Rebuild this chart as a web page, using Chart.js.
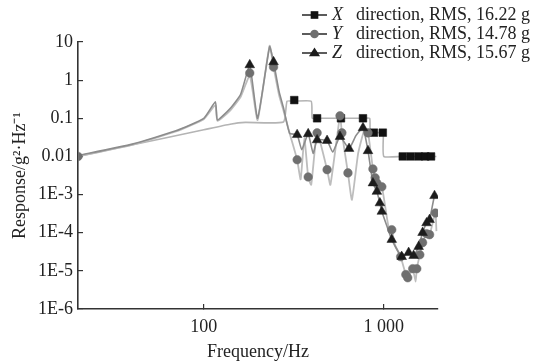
<!DOCTYPE html>
<html>
<head>
<meta charset="utf-8">
<script src="https://cdn.jsdelivr.net/npm/chart.js@4.4.1/dist/chart.umd.min.js"></script>
<style>
  html, body { margin: 0; padding: 0; background: #fff; }
  #wrap { width: 536px; height: 361px; }
</style>
</head>
<body>
<div id="wrap"><canvas id="c" width="536" height="361"></canvas></div>
<script>
// ---------------- DATA ----------------
const seriesNames = ['X', 'Y', 'Z'];
const seriesRms = ['16.22', '14.78', '15.67'];

// X direction
const xLineHz  = [20, 60, 100, 140, 170, 277, 290, 318, 395, 400, 426, 578, 766, 835, 840, 881, 987, 995, 1000, 1274, 1410, 1561, 1700, 1830, 1960];
const xLineVal = [0.01, 0.03, 0.05, 0.07, 0.078, 0.08, 0.28, 0.28, 0.28, 0.1, 0.1, 0.1, 0.1, 0.1, 0.042, 0.042, 0.042, 0.042, 0.01, 0.01, 0.01, 0.01, 0.01, 0.01, 0.01];
const xMarkHz  = [318, 426, 578, 766, 881, 987, 1274, 1410, 1561, 1700, 1830];
const xMarkVal = [0.3, 0.1, 0.1, 0.1, 0.042, 0.042, 0.01, 0.01, 0.01, 0.01, 0.01];

// Y direction
const yLineHz  = [20, 40, 70, 100, 116, 119, 140, 160, 180, 199, 232, 244, 262, 277, 300, 330, 345, 362, 380, 395, 426, 484, 505, 571, 585, 632, 665, 720, 780, 817, 870, 895, 915, 975, 1060, 1107, 1150, 1240, 1325, 1358, 1447, 1503, 1525, 1585, 1642, 1728, 1796, 1935, 1960];
const yLineVal = [0.01, 0.02, 0.045, 0.095, 0.22, 0.085, 0.16, 0.36, 1.3, 0.09, 8.0, 2.2, 0.4, 0.16, 0.04, 0.0082, 0.0025, 0.03, 0.0029, 0.0018, 0.0415, 0.0045, 0.0018, 0.116, 0.0415, 0.0037, 0.00073, 0.012, 0.05, 0.0415, 0.0047, 0.00275, 0.002, 0.0016, 0.00015, 0.00012, 0.00005, 0.0000235, 0.000008, 0.0000066, 0.0000114, 0.0000052, 0.0000114, 0.0000265, 0.000055, 0.000094, 0.000089, 0.00033, 0.00011];
const yMarkHz  = [20, 180, 244, 330, 380, 426, 484, 571, 585, 632, 817, 870, 895, 915, 975, 1107, 1240, 1325, 1358, 1447, 1525, 1585, 1642, 1728, 1796, 1935];
const yMarkVal = [0.01, 1.54, 2.2, 0.0082, 0.0029, 0.0415, 0.0045, 0.116, 0.0415, 0.0037, 0.0415, 0.0047, 0.00275, 0.002, 0.0016, 0.00012, 0.0000235, 0.000008, 0.0000066, 0.0000114, 0.0000114, 0.0000265, 0.000055, 0.000094, 0.000089, 0.00033];

// Z direction
const zLineHz  = [20, 40, 70, 100, 116, 119, 140, 160, 180, 199, 232, 244, 262, 277, 300, 330, 350, 380, 405, 426, 484, 520, 571, 641, 700, 766, 817, 870, 915, 951, 975, 1040, 1107, 1257, 1374, 1464, 1561, 1642, 1728, 1796, 1913, 1960];
const zLineVal = [0.0105, 0.021, 0.047, 0.1, 0.27, 0.09, 0.18, 0.42, 2.4, 0.1, 7.5, 3.0, 0.5, 0.19, 0.04, 0.037, 0.015, 0.039, 0.012, 0.027, 0.026, 0.013, 0.033, 0.016, 0.035, 0.056, 0.014, 0.002, 0.0012, 0.0006, 0.00036, 0.00015, 0.000066, 0.0000235, 0.00003, 0.000025, 0.000043, 0.0001, 0.00018, 0.00022, 0.00093, 0.0008];
const zMarkHz  = [180, 244, 330, 380, 426, 484, 571, 641, 766, 817, 870, 915, 951, 975, 1107, 1257, 1374, 1464, 1561, 1642, 1728, 1796, 1913];
const zMarkVal = [2.5, 3.0, 0.037, 0.039, 0.027, 0.026, 0.033, 0.016, 0.056, 0.014, 0.002, 0.0012, 0.0006, 0.00036, 0.000066, 0.0000235, 0.00003, 0.000025, 0.000043, 0.0001, 0.00018, 0.00022, 0.00093];

// Axis ticks
const xTickValues = [100, 1000];
const xTickLabels = ['100', '1 000'];
const yTickValues = [1e-6, 1e-5, 1e-4, 1e-3, 0.01, 0.1, 1, 10];
const yTickLabels = ['1E-6', '1E-5', '1E-4', '1E-3', '0.01', '0.1', '1', '10'];

// ---------------- STYLE / BUILD ----------------
const FONT = "'Liberation Serif', 'Times New Roman', serif";
const pts = (hz, val) => hz.map((f, i) => ({ x: f, y: val[i] }));

const lineStyle = [
  { color: '#b4b4b4', width: 1.6 },
  { color: '#bdbdbd', width: 1.8 },
  { color: '#8c8c8c', width: 1.6 }
];
const markStyle = [
  { style: 'rect', radius: 5.4, color: '#111111' },
  { style: 'circle', radius: 4.3, color: '#6f6f6f' },
  { style: 'triangle', radius: 5.6, color: '#1c1c1c' }
];

const lines = [[xLineHz, xLineVal], [yLineHz, yLineVal], [zLineHz, zLineVal]];
const marks = [[xMarkHz, xMarkVal], [yMarkHz, yMarkVal], [zMarkHz, zMarkVal]];

const datasets = [];
lines.forEach((l, i) => {
  datasets.push({
    label: seriesNames[i] + ' line',
    data: pts(l[0], l[1]),
    showLine: true,
    borderColor: lineStyle[i].color,
    borderWidth: lineStyle[i].width,
    pointRadius: 0,
    tension: 0.15,
    order: 10 - i
  });
});
marks.forEach((m, i) => {
  datasets.push({
    label: seriesNames[i] + ' direction',
    data: pts(m[0], m[1]),
    showLine: false,
    pointStyle: markStyle[i].style,
    pointRadius: markStyle[i].radius,
    pointBackgroundColor: markStyle[i].color,
    pointBorderColor: markStyle[i].color,
    pointBorderWidth: 0.5,
    order: 3 - i
  });
});

function drawMarker(ctx, style, x, y, r, color) {
  ctx.save();
  ctx.fillStyle = color;
  ctx.beginPath();
  if (style === 'rect') {
    const s = r * Math.SQRT1_2;
    ctx.rect(x - s, y - s, 2 * s, 2 * s);
  } else if (style === 'circle') {
    ctx.arc(x, y, r, 0, Math.PI * 2);
  } else {
    const h = r * 1.5;
    ctx.moveTo(x, y - r);
    ctx.lineTo(x + r * 0.866 * 1.15, y + r * 0.5 * 1.15);
    ctx.lineTo(x - r * 0.866 * 1.15, y + r * 0.5 * 1.15);
    ctx.closePath();
  }
  ctx.fill();
  ctx.restore();
}

const refLegend = {
  id: 'refLegend',
  afterDraw(chart) {
    const ctx = chart.ctx;
    const rows = [15, 34, 53];
    ctx.save();
    seriesNames.forEach((name, i) => {
      const y = rows[i];
      ctx.strokeStyle = '#333';
      ctx.lineWidth = 1.6;
      ctx.beginPath();
      ctx.moveTo(302, y);
      ctx.lineTo(327, y);
      ctx.stroke();
      drawMarker(ctx, markStyle[i].style, 314.5, y, markStyle[i].radius, markStyle[i].color);
      ctx.fillStyle = '#222';
      ctx.textBaseline = 'middle';
      ctx.textAlign = 'left';
      ctx.font = "italic 18px " + FONT;
      ctx.fillText(name, 332, y);
      ctx.font = "18px " + FONT;
      ctx.fillText('direction, RMS, ' + seriesRms[i] + ' g', 356, y);
    });
    ctx.restore();
  }
};

Chart.defaults.font.family = FONT;
Chart.defaults.color = '#222';

new Chart(document.getElementById('c'), {
  type: 'scatter',
  data: { datasets },
  options: {
    responsive: false,
    animation: false,
    layout: { padding: { left: 0, right: 98, top: 42, bottom: 0 } },
    plugins: { legend: { display: false }, tooltip: { enabled: false } },
    scales: {
      x: {
        type: 'logarithmic',
        min: 20, max: 2000,
        afterBuildTicks: (s) => { s.ticks = xTickValues.map(v => ({ value: v })); },
        afterFit: (s) => { s.height = 52; },
        ticks: {
          callback: (v, i) => xTickLabels[i],
          font: { size: 18 },
          padding: 12,
          maxRotation: 0, autoSkip: false
        },
        grid: { drawOnChartArea: false, drawTicks: true, tickLength: -5, color: '#333', lineWidth: 1.2 },
        border: { color: '#333', width: 1.6 },
        title: { display: true, text: 'Frequency/Hz', font: { size: 18, lineHeight: 1 }, padding: { top: 0, bottom: 0 } }
      },
      y: {
        type: 'logarithmic',
        min: 1e-6, max: 10,
        afterBuildTicks: (s) => { s.ticks = yTickValues.map(v => ({ value: v })); },
        afterFit: (s) => { s.width = 78; },
        ticks: {
          callback: (v, i) => yTickLabels[i],
          font: { size: 18 },
          padding: 10,
          autoSkip: false
        },
        grid: { drawOnChartArea: false, drawTicks: true, tickLength: -5, color: '#333', lineWidth: 1.2 },
        border: { color: '#333', width: 1.6 },
        title: { display: true, text: 'Response/g²·Hz⁻¹', font: { size: 18 }, padding: { top: 9, bottom: 0 } }
      }
    }
  },
  plugins: [refLegend]
});
</script>
</body>
</html>
